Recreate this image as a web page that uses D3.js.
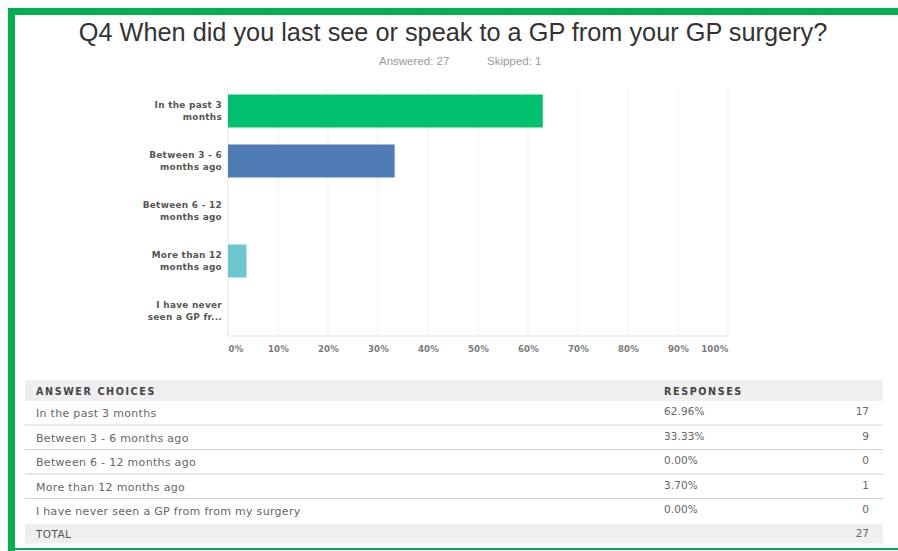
<!DOCTYPE html>
<html>
<head>
<meta charset="utf-8">
<script src="https://cdn.jsdelivr.net/npm/d3@7"></script>
<style>
  html, body { margin: 0; padding: 0; background: #fff; }
  svg { display: block; }
</style>
</head>
<body>
<script>
// Survey question and summary
const questionTitle = "Q4 When did you last see or speak to a GP from your GP surgery?";
const answeredCount = 27;
const skippedCount = 1;

// Answer choices, their wrapped axis labels, and the results
const categories = [
  "In the past 3 months",
  "Between 3 - 6 months ago",
  "Between 6 - 12 months ago",
  "More than 12 months ago",
  "I have never seen a GP from from my surgery"
];
const axisLabels = [
  ["In the past 3", "months"],
  ["Between 3 - 6", "months ago"],
  ["Between 6 - 12", "months ago"],
  ["More than 12", "months ago"],
  ["I have never", "seen a GP fr..."]
];
const percentages = [62.96, 33.33, 0.00, 3.70, 0.00];
const counts = [17, 9, 0, 1, 0];
const totalCount = 27;
const barColors = ["#00bf6f", "#507cb6", "#f9be00", "#6bc8cd", "#ff8b4f"];
const tickValues = [0, 10, 20, 30, 40, 50, 60, 70, 80, 90, 100];

const W = 898, H = 551;
const svg = d3.select("body").append("svg")
  .attr("width", W).attr("height", H);

svg.append("rect").attr("width", W).attr("height", H).attr("fill", "#fff");

// Green frame
const frameColor = "#00b050";
svg.append("rect").attr("x", 8).attr("y", 8).attr("width", W - 8).attr("height", 7).attr("fill", frameColor);
svg.append("rect").attr("x", 8).attr("y", 8).attr("width", 7).attr("height", H - 8).attr("fill", frameColor);
svg.append("rect").attr("x", 8).attr("y", 548).attr("width", W - 8).attr("height", 2).attr("fill", frameColor);

// Title and response summary
svg.append("text")
  .attr("x", 453).attr("y", 41)
  .attr("text-anchor", "middle")
  .attr("font-family", "Liberation Sans, Arial, sans-serif")
  .attr("font-size", 25.3)
  .attr("fill", "#333")
  .text(questionTitle);

svg.append("text")
  .attr("x", 379).attr("y", 65)
  .attr("font-family", "Liberation Sans, Arial, sans-serif")
  .attr("font-size", 11.5)
  .attr("fill", "#9a9a9a")
  .text(`Answered: ${answeredCount}`);
svg.append("text")
  .attr("x", 487).attr("y", 65)
  .attr("font-family", "Liberation Sans, Arial, sans-serif")
  .attr("font-size", 11.5)
  .attr("fill", "#9a9a9a")
  .text(`Skipped: ${skippedCount}`);

// Horizontal bar chart
const plot = { left: 228, right: 728, top: 86, bottom: 336 };
const x = d3.scaleLinear().domain([0, 100]).range([plot.left, plot.right]);
const y = d3.scaleBand().domain(categories).range([plot.top, plot.bottom])
  .paddingInner(0.34).paddingOuter(0.17);

const chart = svg.append("g");

// Vertical gridlines
chart.append("g")
  .selectAll("line")
  .data(tickValues.filter(d => d > 0))
  .join("line")
  .attr("x1", d => x(d)).attr("x2", d => x(d))
  .attr("y1", plot.top + 2).attr("y2", plot.bottom)
  .attr("stroke", "#efefef").attr("stroke-width", 1);

// Axis lines
chart.append("line")
  .attr("x1", plot.left).attr("x2", plot.left)
  .attr("y1", plot.top + 2).attr("y2", plot.bottom)
  .attr("stroke", "#e4e4e4");
chart.append("line")
  .attr("x1", plot.left).attr("x2", plot.right)
  .attr("y1", plot.bottom).attr("y2", plot.bottom)
  .attr("stroke", "#e0e0e0");

// Bars
chart.append("g")
  .selectAll("rect")
  .data(categories)
  .join("rect")
  .attr("x", x(0))
  .attr("y", d => y(d))
  .attr("width", (d, i) => x(percentages[i]) - x(0))
  .attr("height", y.bandwidth())
  .attr("fill", (d, i) => barColors[i]);

// Category labels (two lines each)
const catLabel = chart.append("g")
  .selectAll("text")
  .data(categories)
  .join("text")
  .attr("text-anchor", "end")
  .attr("font-family", "DejaVu Sans, sans-serif")
  .attr("font-weight", "bold")
  .attr("font-size", 8.9)
  .attr("letter-spacing", 0.3)
  .attr("fill", "#555");
catLabel.each(function (d, i) {
  const cy = y(d) + y.bandwidth() / 2;
  d3.select(this).selectAll("tspan")
    .data(axisLabels[i])
    .join("tspan")
    .attr("x", plot.left - 6)
    .attr("y", (t, j) => cy - 6 + j * 12 + 3)
    .text(t => t);
});

// Bottom axis tick labels
const xAxis = d3.axisBottom(x)
  .tickValues(tickValues)
  .tickFormat(d => d + "%")
  .tickSize(0)
  .tickPadding(10);
const axisG = chart.append("g")
  .attr("transform", `translate(0,${plot.bottom})`)
  .call(xAxis);
axisG.select(".domain").remove();
axisG.selectAll("text")
  .attr("font-family", "DejaVu Sans, sans-serif")
  .attr("font-weight", "bold")
  .attr("font-size", 8.6)
  .attr("letter-spacing", 0.2)
  .attr("fill", "#7a7a7a")
  .attr("text-anchor", d => d === 0 ? "start" : d === 100 ? "end" : "middle");

// Results table
const table = { left: 25, right: 883, pctX: 664, countX: 869 };
const headerTop = 380, rowH = 24.5;
const rowTop = i => headerTop + 21 + i * rowH;
const tableFont = "DejaVu Sans, sans-serif";

const tg = svg.append("g");

tg.append("rect")
  .attr("x", table.left).attr("y", headerTop)
  .attr("width", table.right - table.left).attr("height", 21)
  .attr("fill", "#efefef");

tg.append("text")
  .attr("x", 36).attr("y", headerTop + 14.5)
  .attr("font-family", tableFont).attr("font-weight", "bold")
  .attr("font-size", 9.6).attr("letter-spacing", 1.6)
  .attr("fill", "#444")
  .text("ANSWER CHOICES");
tg.append("text")
  .attr("x", table.pctX).attr("y", headerTop + 14.5)
  .attr("font-family", tableFont).attr("font-weight", "bold")
  .attr("font-size", 9.6).attr("letter-spacing", 1.6)
  .attr("fill", "#444")
  .text("RESPONSES");

// Row separators
tg.append("g")
  .selectAll("line")
  .data(categories.slice(0, -1))
  .join("line")
  .attr("x1", table.left).attr("x2", table.right)
  .attr("y1", (d, i) => rowTop(i + 1) - 0.5)
  .attr("y2", (d, i) => rowTop(i + 1) - 0.5)
  .attr("stroke", "#d2d2d2");

const rows = tg.append("g")
  .selectAll("g")
  .data(categories)
  .join("g");

rows.append("text")
  .attr("x", 36)
  .attr("y", (d, i) => rowTop(i) + 16)
  .attr("font-family", tableFont).attr("font-size", 11)
  .attr("letter-spacing", 0.3)
  .attr("fill", "#666")
  .text(d => d);
rows.append("text")
  .attr("x", table.pctX)
  .attr("y", (d, i) => rowTop(i) + 14)
  .attr("font-family", tableFont).attr("font-size", 10.5)
  .attr("letter-spacing", 0.1)
  .attr("fill", "#666")
  .text((d, i) => percentages[i].toFixed(2) + "%");
rows.append("text")
  .attr("x", table.countX)
  .attr("y", (d, i) => rowTop(i) + 14)
  .attr("text-anchor", "end")
  .attr("font-family", tableFont).attr("font-size", 10.5)
  .attr("fill", "#666")
  .text((d, i) => counts[i]);

// Total row
const totalTop = rowTop(categories.length);
tg.append("rect")
  .attr("x", table.left).attr("y", totalTop)
  .attr("width", table.right - table.left).attr("height", 20)
  .attr("fill", "#efefef");
tg.append("text")
  .attr("x", 36).attr("y", totalTop + 14)
  .attr("font-family", tableFont).attr("font-size", 10.5)
  .attr("letter-spacing", 0.4)
  .attr("fill", "#555")
  .text("TOTAL");
tg.append("text")
  .attr("x", table.countX).attr("y", totalTop + 13)
  .attr("text-anchor", "end")
  .attr("font-family", tableFont).attr("font-size", 10.5)
  .attr("fill", "#666")
  .text(totalCount);
</script>
</body>
</html>
